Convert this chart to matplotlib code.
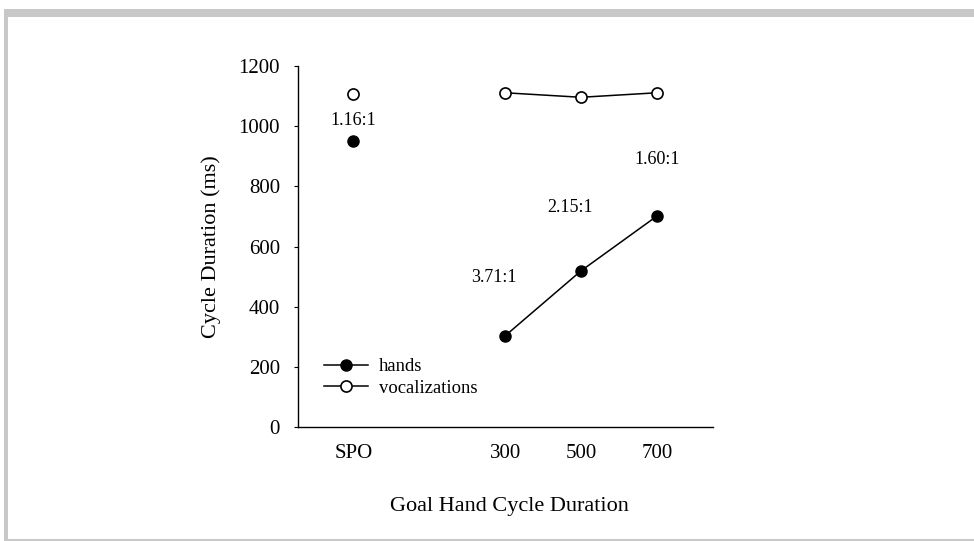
import matplotlib
matplotlib.use("Agg")
import matplotlib.pyplot as plt
from matplotlib.patches import Rectangle

plt.rcParams['font.family'] = ['Liberation Serif', 'DejaVu Serif']

categories = ["SPO", "300", "500", "700"]
positions = [0, 2, 3, 4]
hands = [952, 303, 519, 701]
vocalizations = [1108, 1111, 1096, 1111]
ratio_labels = ["1.16:1", "3.71:1", "2.15:1", "1.60:1"]
ratio_x = [0, 1.85, 2.85, 4.0]
ratio_y = [1018, 497, 730, 890]

fig = plt.figure(figsize=(9.74, 5.41), dpi=100)
fig.patch.set_facecolor("white")
# gray frame
fig.patches.append(Rectangle((4/974, 0), 970/974, 2/541, transform=fig.transFigure,
                             facecolor="#c8c8c8", edgecolor="none"))
fig.patches.append(Rectangle((4/974, 1-17/541), 970/974, 8/541, transform=fig.transFigure,
                             facecolor="#c8c8c8", edgecolor="none"))
fig.patches.append(Rectangle((4/974, 0), 4/974, 1-9/541, transform=fig.transFigure,
                             facecolor="#c8c8c8", edgecolor="none"))

ax = fig.add_axes([298/974, 1-427/541, (713-298)/974, (427-66)/541])

# hands: SPO isolated, goal conditions connected
ax.plot(positions[:1], hands[:1], "o", color="black", ms=8, mec="black", mfc="black")
ax.plot(positions[1:], hands[1:], "-o", color="black", lw=1.1, ms=8, mfc="black",
        label="hands")
ax.plot(positions[:1], vocalizations[:1], "o", color="black", ms=8, mfc="white", mew=1.2)
ax.plot(positions[1:], vocalizations[1:], "-o", color="black", lw=1.1, ms=8, mfc="white",
        mew=1.2, label="vocalizations")

for x, y, t in zip(ratio_x, ratio_y, ratio_labels):
    ax.text(x, y, t, ha="center", va="center", fontsize=13)

ax.set_xlim(-0.73, 4.74)
ax.set_ylim(0, 1200)
ax.set_yticks(range(0, 1201, 200))
ax.set_xticks(positions)
ax.set_xticklabels(categories)
ax.tick_params(axis="x", length=0, pad=12, labelsize=15)
ax.tick_params(axis="y", length=3, width=0.8, direction="out", pad=10, labelsize=15)
for s in ["top", "right"]:
    ax.spines[s].set_visible(False)
for s in ["left", "bottom"]:
    ax.spines[s].set_linewidth(1)

ax.set_ylabel("Cycle Duration (ms)", fontsize=16)
ax.yaxis.set_label_coords(-0.185, 0.5)
ax.set_xlabel("Goal Hand Cycle Duration", fontsize=16)
ax.xaxis.set_label_coords(0.51, -0.194)

leg = ax.legend(loc="lower left", bbox_to_anchor=(0.04, 0.058), frameon=False,
                fontsize=13.4, handlelength=2.37, handletextpad=0.6, borderpad=0,
                labelspacing=0.24)

fig.savefig("out.png", dpi=100, facecolor="white")
